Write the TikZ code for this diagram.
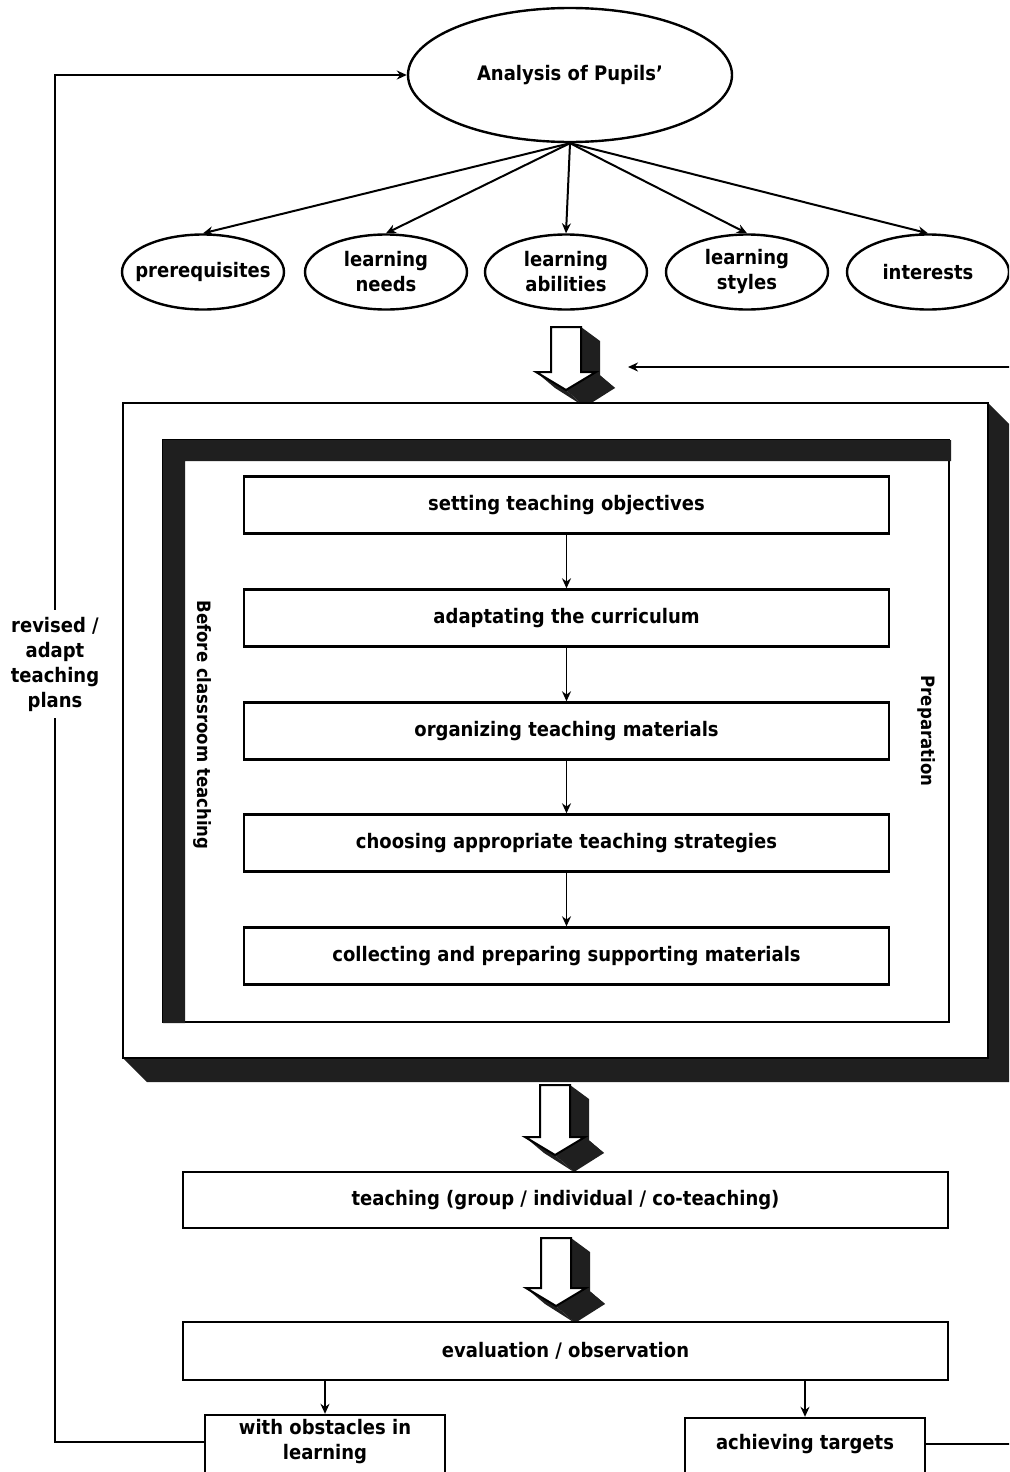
\documentclass[tikz,border=0pt]{standalone}
\usepackage{fontspec}
\setmainfont{DejaVu Sans}[FakeStretch=0.9]
\usetikzlibrary{shapes.geometric,arrows.meta,calc}
\newcommand\blkarrow[3]{%
  \begin{scope}[shift={(#1,#2)}]
    \fill[dk] (15,0) -- (34,14) -- (34,#3+16) -- (15,#3) -- cycle;
    \fill[dk] (15,#3) -- (30,#3) -- (49,#3+16) -- (34,#3+16) -- cycle;
    \fill[dk] (30,#3) -- (49,#3+16) -- (19,#3+35) -- (0,#3+18) -- cycle;
    \fill[dk] (0,#3+18) -- (19,#3+35) -- (-11,#3+16) -- (-30,#3) -- cycle;
    \filldraw[fill=white, line width=1pt, line join=miter] (-15,0) -- (15,0) -- (15,#3) -- (30,#3) -- (0,#3+18) -- (-30,#3) -- (-15,#3) -- cycle;
  \end{scope}}
\begin{document}
\begin{tikzpicture}[x=0.5pt,y=-0.5pt,
  dk/.style={fill=black!88},
  lbl/.style={font=\fontsize{10}{12.5}\selectfont\bfseries, align=center},
  rlbl/.style={font=\fontsize{9.2}{11}\selectfont\bfseries, rotate=-90},
  box/.style={draw, line width=1.2pt, fill=white, minimum width=322.5pt, minimum height=28.5pt, inner sep=0pt, lbl},
  ell/.style={ellipse, draw, line width=1.2pt, minimum width=81pt, minimum height=37.5pt, inner xsep=-6pt, inner ysep=0pt, lbl},
  arr/.style={-{Stealth[length=5pt,width=4.5pt]}, line width=0.9pt},
  ln/.style={line width=0.9pt}]
\path[use as bounding box] (0,0) rectangle (1009,1472);
\clip (0,0) rectangle (1009,1472);

% top analysis
\node[ell, minimum width=162pt, minimum height=67pt] (top) at (570,75) {Analysis of Pupils'};
\node[ell] (e1) at (203,272) {prerequisites};
\node[ell] (e2) at (386,272) {learning\\needs};
\node[ell] (e3) at (566,272) {learning\\abilities};
\node[ell] (e4) at (747,272) {learning\\styles};
\node[ell] (e5) at (928,272) {interests};
\foreach \e in {e1,e2,e3,e4,e5} \draw[arr, line width=1pt] (top.south) -- (\e.north);

% block arrow 1
\blkarrow{566}{327}{45}

% right incoming arrow
\coordinate (rin) at (1012,367);
\coordinate (rtip) at (628,367);
\draw[arr] (rin) -- (rtip);

% outer 3D frame
\fill[dk] (988,403) -- (1012,427) -- (1012,1082) -- (147,1082) -- (123,1058) -- (988,1058) -- cycle;
\draw[line width=1.4pt, fill=white] (123,403) rectangle (988,1058);

% inner frame
\draw[line width=1.3pt] (163,440) rectangle (949,1022);
\fill[dk] (163,440) -- (951,440) -- (951,461) -- (185,461) -- (185,1023) -- (163,1023) -- cycle;

\node[rlbl] (before) at (203,725) {Before classroom teaching};
\node[rlbl] (prep) at (927,731) {Preparation};

\node[box] (b1) at (566.5,505) {setting teaching objectives};
\node[box] (b2) at (566.5,618) {adaptating the curriculum};
\node[box] (b3) at (566.5,731) {organizing teaching materials};
\node[box] (b4) at (566.5,843) {choosing appropriate teaching strategies};
\node[box] (b5) at (566.5,956) {collecting and preparing supporting materials};
\draw[arr] (b1) -- (b2);
\draw[arr] (b2) -- (b3);
\draw[arr] (b3) -- (b4);
\draw[arr] (b4) -- (b5);

% block arrow 2
\blkarrow{555}{1085}{52}
\node[box, minimum width=382.5pt, minimum height=28pt] (teach) at (565.5,1200) {teaching (group / individual / co-teaching)};

% block arrow 3
\blkarrow{556}{1238}{50}
\node[box, minimum width=382.5pt, minimum height=29pt] (eval) at (565.5,1351) {evaluation / observation};

% bottom boxes
\node[draw, line width=1.2pt, minimum width=120pt, minimum height=60pt, inner sep=0pt] (obsbox) at (325,1475) {};
\node[lbl] (obs) at (325,1442) {with obstacles in\\learning};
\node[draw, line width=1.2pt, minimum width=120pt, minimum height=60pt, inner sep=0pt] (achbox) at (805,1478) {};
\node[lbl] (ach) at (805,1444) {achieving targets};
\draw[arr] (obsbox.north |- eval.south) -- (obsbox.north);
\draw[arr] (achbox.north |- eval.south) -- (achbox.north);

% loop back
\node[lbl] (rev) at (55,664) {revised /\\adapt\\teaching\\plans};
\draw[ln] (obs -| obsbox.west) -| (rev.south);
\draw[arr] (rev.north) |- (top.west);
\coordinate (rout) at (1012,1444);
\draw[ln] (ach -| achbox.east) -- (rout);
\end{tikzpicture}
\end{document}
